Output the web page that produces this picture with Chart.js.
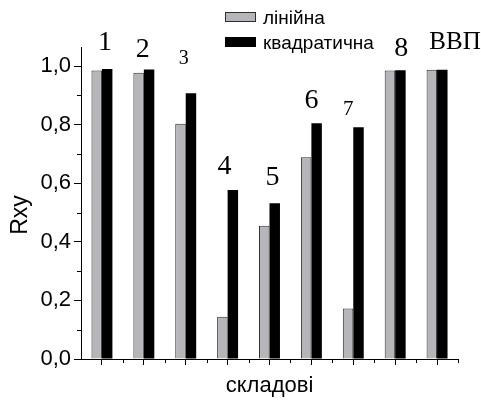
<!DOCTYPE html>
<html>
<head>
<meta charset="utf-8">
<script src="https://cdn.jsdelivr.net/npm/chart.js@4.4.1/dist/chart.umd.min.js"></script>
<style>
  html, body { margin: 0; padding: 0; background: #fff; }
  #wrap { width: 481px; height: 400px; position: relative; }
</style>
</head>
<body>
<div id="wrap"><canvas id="chart"></canvas></div>
<script>
// дані
const categories = ['1', '2', '3', '4', '5', '6', '7', '8', 'ВВП'];
const linearValues = [0.985, 0.977, 0.803, 0.144, 0.455, 0.689, 0.172, 0.985, 0.987];
const quadraticValues = [0.990, 0.988, 0.907, 0.577, 0.532, 0.805, 0.791, 0.986, 0.987];
const yTickValues = [0, 0.2, 0.4, 0.6, 0.8, 1.0];
const yMinorValues = [0.1, 0.3, 0.5, 0.7, 0.9];

// розміщення підписів над групами (зсув по x у px, висота базової лінії в одиницях осі, розмір шрифту)
const groupLabelLayout = [
    { dx: 3, y: 1.055, size: 28 },
    { dx: -1, y: 1.031, size: 28 },
    { dx: -2, y: 1.008, size: 20 },
    { dx: -3, y: 0.631, size: 28 },
    { dx: 3, y: 0.594, size: 28 },
    { dx: 0, y: 0.857, size: 28 },
    { dx: -5, y: 0.833, size: 21 },
    { dx: 6, y: 1.034, size: 28 },
    { dx: 18, y: 1.058, size: 25 }
];

const annotations = {
    id: 'annotations',
    afterDraw(chart) {
        const { ctx, scales: { x, y } } = chart;
        ctx.save();
        ctx.strokeStyle = '#000';
        ctx.lineWidth = 1;

        // малі поділки осі y
        yMinorValues.forEach(v => {
            const py = Math.round(y.getPixelForValue(v)) + 0.5;
            ctx.beginPath();
            ctx.moveTo(y.right - 4, py);
            ctx.lineTo(y.right, py);
            ctx.stroke();
        });

        // малі поділки осі x (межі категорій)
        for (let i = 0; i < categories.length; i++) {
            const px = Math.round(x.getPixelForValue(i + 0.5)) + 0.5;
            ctx.beginPath();
            ctx.moveTo(px, x.top);
            ctx.lineTo(px, x.top + 4);
            ctx.stroke();
        }

        // підписи груп
        ctx.fillStyle = '#000';
        ctx.textAlign = 'center';
        ctx.textBaseline = 'alphabetic';
        categories.forEach((c, i) => {
            const l = groupLabelLayout[i];
            ctx.font = l.size + 'px "Liberation Serif", "Times New Roman", serif';
            ctx.fillText(c, x.getPixelForValue(i) + l.dx, y.getPixelForValue(l.y));
        });

        // легенда
        ctx.textAlign = 'left';
        ctx.font = '19px "Liberation Sans", Arial, sans-serif';
        chart.data.datasets.forEach((ds, i) => {
            const top = 12 + i * 25;
            ctx.fillStyle = ds.backgroundColor;
            ctx.fillRect(225, top, 31, 10);
            ctx.strokeStyle = ds.borderColor;
            ctx.strokeRect(225.5, top + 0.5, 30, 9);
            ctx.fillStyle = '#000';
            ctx.fillText(ds.label, 263, top + 12);
        });

        // назва осі y
        ctx.translate(21, (y.top + y.bottom) / 2 + 12);
        ctx.rotate(-Math.PI / 2);
        ctx.textAlign = 'center';
        ctx.textBaseline = 'middle';
        ctx.font = '23px "Liberation Sans", Arial, sans-serif';
        ctx.fillText('Rxy', 0, 0);
        ctx.restore();
    }
};

new Chart(document.getElementById('chart'), {
    type: 'bar',
    data: {
        labels: categories,
        datasets: [
            {
                label: 'лінійна',
                data: linearValues,
                backgroundColor: '#b6b6ba',
                borderColor: '#2e2e2e',
                borderWidth: 1
            },
            {
                label: 'квадратична',
                data: quadraticValues,
                backgroundColor: '#000',
                borderColor: '#000',
                borderWidth: 0
            }
        ]
    },
    options: {
        responsive: true,
        maintainAspectRatio: false,
        animation: false,
        layout: { padding: { left: 0, top: 47, right: 23, bottom: 0 } },
        datasets: { bar: { categoryPercentage: 0.5, barPercentage: 1.0 } },
        plugins: {
            legend: { display: false },
            tooltip: { enabled: false }
        },
        scales: {
            x: {
                offset: true,
                grid: {
                    offset: false,
                    drawOnChartArea: false,
                    drawTicks: true,
                    tickLength: 6,
                    color: '#000'
                },
                border: { display: true, color: '#000', width: 1 },
                ticks: { display: false },
                title: {
                    display: true,
                    text: 'складові',
                    color: '#000',
                    font: { family: '"Liberation Sans", Arial, sans-serif', size: 22, lineHeight: 1 },
                    padding: { top: 0, bottom: 3 }
                },
                afterFit(scale) { scale.height = 41; }
            },
            y: {
                min: 0,
                max: 1.065,
                afterBuildTicks(scale) { scale.ticks = yTickValues.map(v => ({ value: v })); },
                grid: {
                    drawOnChartArea: false,
                    drawTicks: true,
                    tickLength: 7,
                    color: '#000'
                },
                border: { display: true, color: '#000', width: 1 },
                ticks: {
                    padding: 3,
                    color: '#000',
                    font: { family: '"Liberation Sans", Arial, sans-serif', size: 22 },
                    callback: v => v.toFixed(1).replace('.', ',')
                },
                afterFit(scale) { scale.width = 81; }
            }
        }
    },
    plugins: [annotations]
});
</script>
</body>
</html>
